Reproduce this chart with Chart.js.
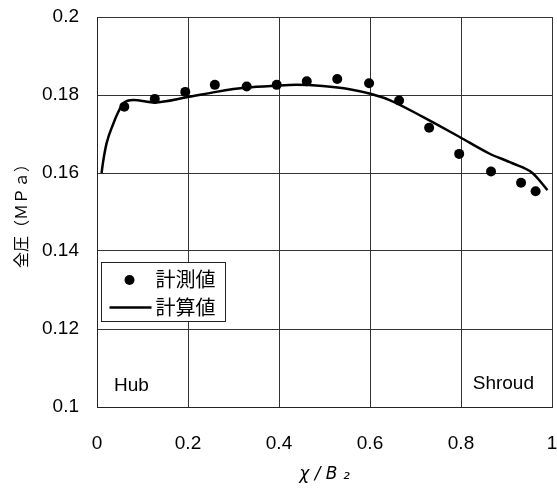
<!DOCTYPE html>
<html>
<head>
<meta charset="utf-8">
<script src="https://cdn.jsdelivr.net/npm/chart.js"></script>
<style>
  body { margin: 0; background: #fff; }
</style>
</head>
<body>
<canvas id="myChart" width="557" height="489"></canvas>
<script>
// 計測値 (points)
var measX = [0.060, 0.127, 0.194, 0.259, 0.329, 0.395, 0.461, 0.528, 0.598, 0.664, 0.730, 0.796, 0.866, 0.932, 0.964];
var measY = [0.1770, 0.1790, 0.1808, 0.1826, 0.1822, 0.1826, 0.1835, 0.1841, 0.1830, 0.1786, 0.1716, 0.1649, 0.1604, 0.1575, 0.1553];
// 計算値 (line)
var calcX = [0.010, 0.014, 0.021, 0.036, 0.047, 0.058, 0.080, 0.127, 0.197, 0.262, 0.328, 0.394, 0.438, 0.496, 0.555, 0.601, 0.643, 0.716, 0.796, 0.862, 0.913, 0.957, 0.990];
var calcY = [0.1600, 0.1633, 0.1676, 0.1727, 0.1757, 0.1779, 0.1787, 0.1781, 0.1794, 0.1808, 0.1819, 0.1824, 0.1826, 0.1823, 0.1815, 0.1803, 0.1787, 0.1744, 0.1693, 0.1650, 0.1625, 0.1600, 0.1556];

var xTicks = [0, 0.2, 0.4, 0.6, 0.8, 1];
var yTicks = [0.1, 0.12, 0.14, 0.16, 0.18, 0.2];
var seriesNames = ['計測値', '計算値'];
var regionNames = ['Hub', 'Shroud'];

var latin = '"Liberation Sans", Arial, sans-serif';
var cjk = '"Noto Sans CJK JP", sans-serif';

function toPoints(xs, ys) {
    return xs.map(function(x, i) { return { x: x, y: ys[i] }; });
}

// legend box and Hub / Shroud labels
var notes = {
    id: 'notes',
    afterDraw: function(chart) {
        var c = chart.ctx;
        var a = chart.chartArea;
        c.save();
        c.fillStyle = '#000';
        c.textBaseline = 'middle';
        c.font = '19px ' + latin;
        c.textAlign = 'left';
        c.fillText(regionNames[0], a.left + 17, a.bottom - 21);
        c.textAlign = 'right';
        c.fillText(regionNames[1], a.right - 18, a.bottom - 23);

        // legend
        var bx = a.left + 4.5, by = 262.5;
        c.fillStyle = '#fff';
        c.fillRect(bx, by, 124, 59);
        c.strokeStyle = '#222';
        c.lineWidth = 1;
        c.strokeRect(bx, by, 124, 59);
        c.fillStyle = '#000';
        c.beginPath();
        c.arc(bx + 28, by + 17.5, 5, 0, Math.PI * 2);
        c.fill();
        c.lineWidth = 2.5;
        c.strokeStyle = '#000';
        c.beginPath();
        c.moveTo(bx + 8, by + 45);
        c.lineTo(bx + 50, by + 45);
        c.stroke();
        c.textAlign = 'left';
        c.font = '20px ' + cjk;
        c.fillText(seriesNames[0], bx + 54, by + 17);
        c.fillText(seriesNames[1], bx + 54, by + 45);
        c.restore();
    }
};

var ctx = document.getElementById('myChart').getContext('2d');
var myChart = new Chart(ctx, {
    type: 'scatter',
    data: {
        datasets: [{
            label: seriesNames[0],
            data: toPoints(measX, measY),
            showLine: false,
            pointRadius: 5,
            pointBackgroundColor: '#000',
            pointBorderColor: '#000',
            pointBorderWidth: 0
        },
        {
            label: seriesNames[1],
            data: toPoints(calcX, calcY),
            showLine: true,
            borderColor: '#000',
            borderWidth: 2.5,
            pointRadius: 0,
            tension: 0.4,
            cubicInterpolationMode: 'monotone'
        }]
    },
    options: {
        responsive: false,
        animation: false,
        layout: { padding: { left: 0, right: 4, top: 17, bottom: 0 } },
        plugins: {
            legend: { display: false },
            tooltip: { enabled: false }
        },
        scales: {
            x: {
                type: 'linear',
                min: 0,
                max: 1,
                afterBuildTicks: function(scale) {
                    scale.ticks = xTicks.map(function(v) { return { value: v }; });
                },
                afterFit: function(scale) {
                    scale.height = 82;
                    scale.paddingLeft = 0;
                    scale.paddingRight = 0;
                },
                grid: { color: '#333', lineWidth: 1, drawTicks: false },
                border: { color: '#222', width: 1 },
                ticks: {
                    padding: 25,
                    color: '#000',
                    font: { family: latin, size: 19 },
                    callback: function(v) { return String(v); }
                },
                title: {
                    display: true,
                    text: 'χ / B ₂',
                    color: '#000',
                    font: { family: 'DejaVu Sans', size: 17, style: 'italic' },
                    padding: { top: 0, bottom: 4 }
                }
            },
            y: {
                type: 'linear',
                min: 0.1,
                max: 0.2,
                afterBuildTicks: function(scale) {
                    scale.ticks = yTicks.map(function(v) { return { value: v }; });
                },
                afterFit: function(scale) {
                    scale.width = 97;
                    scale.paddingTop = 0;
                    scale.paddingBottom = 0;
                },
                grid: { color: '#333', lineWidth: 1, drawTicks: false },
                border: { color: '#222', width: 1 },
                ticks: {
                    padding: 18,
                    color: '#000',
                    font: { family: latin, size: 19 },
                    callback: function(v) { return String(v); }
                },
                title: {
                    display: true,
                    text: '全圧（ＭＰａ）',
                    color: '#000',
                    font: { family: cjk, size: 16 },
                    padding: { top: 11, bottom: 0 }
                }
            }
        }
    },
    plugins: [notes]
});
</script>
</body>
</html>
